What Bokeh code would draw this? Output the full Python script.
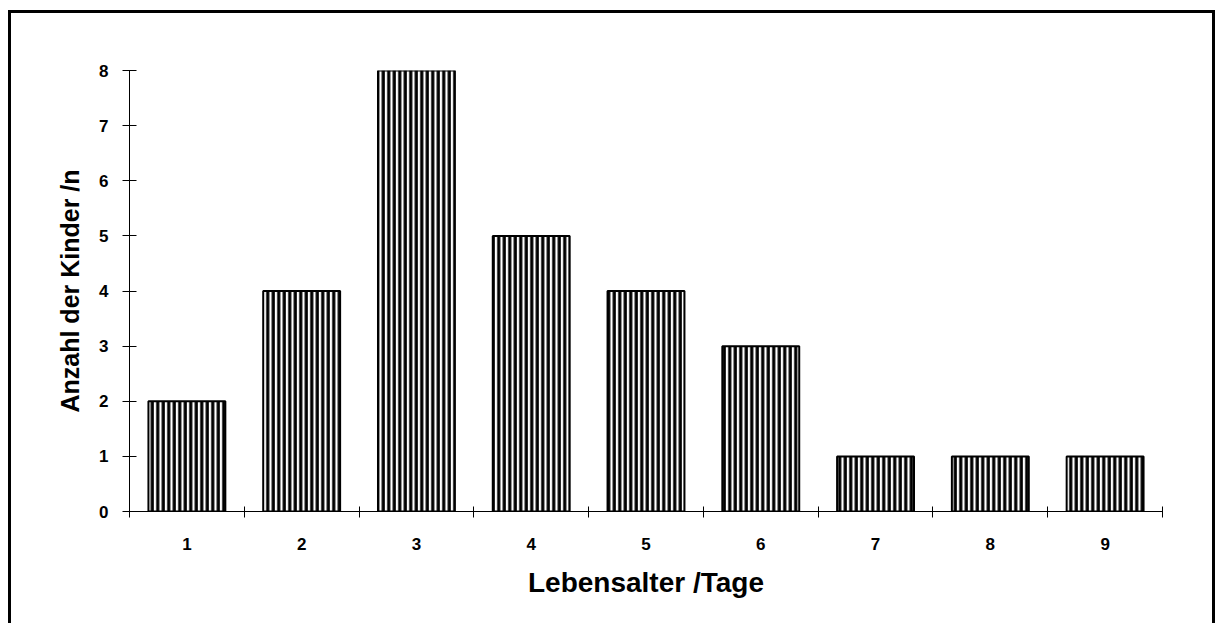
from bokeh.plotting import figure
from bokeh.models import Range1d, FixedTicker
from bokeh.embed import file_html
from bokeh.resources import INLINE

# Data
ages = [1, 2, 3, 4, 5, 6, 7, 8, 9]
counts = [2, 4, 8, 5, 4, 3, 1, 1, 1]
y_ticks = [0, 1, 2, 3, 4, 5, 6, 7, 8]
x_boundaries = [0.5, 1.5, 2.5, 3.5, 4.5, 5.5, 6.5, 7.5, 8.5, 9.5]

FONT = "Liberation Sans"

p = figure(width=1201, height=610, output_backend="svg", toolbar_location=None,
           x_range=Range1d(0.5, 9.5), y_range=Range1d(0, 8),
           min_border_left=118, min_border_right=50, min_border_top=57,
           min_border_bottom=112)

p.styles = {"margin-left": "11px", "margin-top": "13px",
            "outline": "3px solid black", "outline-offset": "0px"}

p.vbar(x=ages, top=counts, width=0.67, bottom=0,
       fill_color="white", line_color="black", line_width=2,
       hatch_pattern="vertical_line", hatch_color="black",
       hatch_scale=5.5, hatch_weight=3.2)

p.grid.visible = False
p.outline_line_color = None

# x axis
xa = p.xaxis[0]
xa.ticker = FixedTicker(ticks=ages, minor_ticks=x_boundaries)
xa.major_tick_line_color = None
xa.major_tick_in = 0
xa.major_tick_out = 0
xa.minor_tick_line_color = "black"
xa.minor_tick_in = 5
xa.minor_tick_out = 6
xa.axis_line_color = "black"
xa.major_label_standoff = 20
xa.major_label_text_font = FONT
xa.major_label_text_font_style = "bold"
xa.major_label_text_font_size = "17px"
xa.major_label_text_color = "black"
xa.axis_label = "Lebensalter /Tage"
xa.axis_label_text_font = FONT
xa.axis_label_text_font_style = "bold"
xa.axis_label_text_font_size = "28px"
xa.axis_label_text_color = "black"
xa.axis_label_standoff = 14

# y axis
ya = p.yaxis[0]
ya.ticker = FixedTicker(ticks=y_ticks, minor_ticks=[])
ya.major_tick_in = 7
ya.major_tick_out = 7
ya.major_tick_line_color = "black"
ya.axis_line_color = "black"
ya.major_label_standoff = 14
ya.major_label_text_font = FONT
ya.major_label_text_font_style = "bold"
ya.major_label_text_font_size = "17px"
ya.major_label_text_color = "black"
ya.axis_label = "Anzahl der Kinder /n"
ya.axis_label_text_font = FONT
ya.axis_label_text_font_style = "bold"
ya.axis_label_text_font_size = "25px"
ya.axis_label_text_color = "black"
ya.axis_label_standoff = 12

open("out.html", "w").write(file_html(p, INLINE))
